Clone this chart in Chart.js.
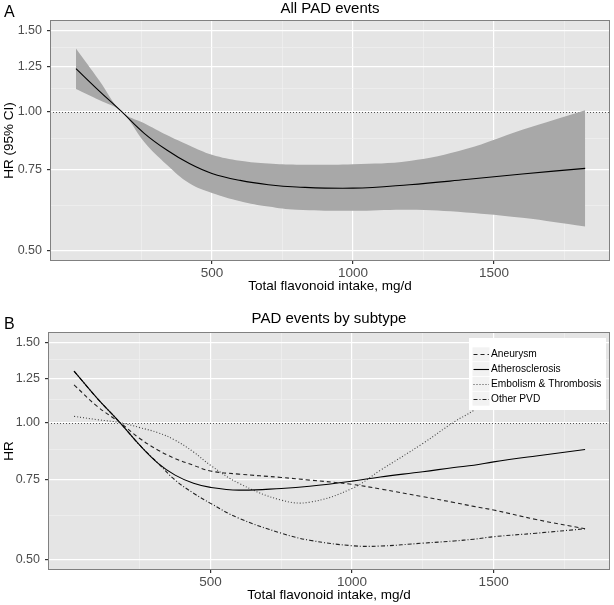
<!DOCTYPE html>
<html>
<head>
<meta charset="utf-8">
<script src="https://cdn.jsdelivr.net/npm/chart.js@4.4.0/dist/chart.umd.min.js"></script>
<style>
  body { margin: 0; background: #fff; }
  canvas { position: absolute; left: 0; }
  #chartA { top: 0; }
  #chartB { top: 300px; }
</style>
</head>
<body>
<canvas id="chartA" width="614" height="300"></canvas>
<canvas id="chartB" width="614" height="305"></canvas>
<script>
// Panel A: all PAD events, HR with 95% CI
const intakeA = [18, 100, 180, 260, 340, 420, 500, 600, 700, 800, 1000, 1200, 1400, 1600, 1823];
const hrAll = [1.24, 1.11, 1.00, 0.898, 0.826, 0.772, 0.735, 0.71, 0.695, 0.687, 0.683, 0.695, 0.713, 0.733, 0.754];
const hrAllUpper = [1.37, 1.17, 1.00, 0.944, 0.89, 0.845, 0.807, 0.783, 0.772, 0.768, 0.77, 0.782, 0.83, 0.914, 1.008];
const hrAllLower = [1.12, 1.06, 1.00, 0.86, 0.768, 0.70, 0.667, 0.64, 0.623, 0.613, 0.61, 0.613, 0.605, 0.589, 0.564];

// Panel B: by subtype
const intakeB = [18, 100, 180, 250, 315, 375, 440, 500, 600, 750, 850, 1000, 1100, 1250, 1360, 1430, 1500, 1650, 1823];
const hrAneurysm = [1.21, 1.085, 1.0, 0.923, 0.87, 0.834, 0.806, 0.783, 0.771, 0.758, 0.748, 0.732, 0.715, 0.688, 0.668, 0.655, 0.643, 0.613, 0.585];
const hrAthero = [1.297, 1.13, 1.0, 0.892, 0.814, 0.767, 0.736, 0.721, 0.711, 0.717, 0.725, 0.744, 0.76, 0.78, 0.797, 0.806, 0.82, 0.845, 0.873];
const hrEmbolism = [1.032, 1.015, 1.0, 0.975, 0.95, 0.915, 0.862, 0.806, 0.736, 0.676, 0.669, 0.717, 0.786, 0.90, 1.003, 1.064, 1.15, null, null];
const hrOther = [1.297, 1.13, 1.0, 0.892, 0.814, 0.748, 0.70, 0.665, 0.617, 0.572, 0.552, 0.537, 0.536, 0.544, 0.55, 0.555, 0.562, 0.572, 0.585];
const subtypes = ["Aneurysm", "Atherosclerosis", "Embolism & Thrombosis", "Other PVD"];

const yTickValues = [0.5, 0.625, 0.75, 0.875, 1.0, 1.125, 1.25, 1.375, 1.5];
const yTickLabels = ["0.50", "", "0.75", "", "1.00", "", "1.25", "", "1.50"];
const xTickValues = [250, 500, 750, 1000, 1250, 1500, 1750];
const xTickLabels = ["", "500", "", "1000", "", "1500", ""];
const refHR = 1.0;

const FONT = "'Liberation Sans', Arial, Helvetica, sans-serif";

const pts = (xs, ys) => xs.map((x, i) => ({ x: x, y: ys[i] }));

const panelDecor = {
  id: "panelDecor",
  beforeDraw(chart) {
    const a = chart.chartArea, ctx = chart.ctx;
    ctx.save();
    ctx.fillStyle = "#e5e5e5";
    ctx.fillRect(a.left, a.top, a.right - a.left, a.bottom - a.top);
    ctx.restore();
  },
  beforeDatasetsDraw(chart) {
    const a = chart.chartArea, ctx = chart.ctx;
    const y = Math.round(chart.scales.y.getPixelForValue(refHR)) + 0.5;
    ctx.save();
    ctx.strokeStyle = "#555";
    ctx.lineWidth = 1;
    ctx.setLineDash([1, 2]);
    ctx.beginPath();
    ctx.moveTo(a.left, y);
    ctx.lineTo(a.right, y);
    ctx.stroke();
    ctx.restore();
  },
  afterDatasetsDraw(chart, args, opts) {
    if (!opts.showKey) return;
    const a = chart.chartArea, ctx = chart.ctx;
    const w = 137, h = 72;
    const x0 = a.right - 4 - w, y0 = a.top + 6;
    ctx.save();
    ctx.fillStyle = "#fff";
    ctx.fillRect(x0, y0, w, h);
    ctx.font = "10.2px " + FONT;
    ctx.textBaseline = "middle";
    chart.data.datasets.forEach((ds, i) => {
      const cy = y0 + 16.3 + i * 14.8;
      ctx.fillStyle = "#f2f2f2";
      ctx.fillRect(x0 + 3.5, cy - 7, 17, 14);
      ctx.strokeStyle = ds.borderColor;
      ctx.lineWidth = ds.borderWidth;
      ctx.setLineDash(ds.borderDash || []);
      ctx.beginPath();
      ctx.moveTo(x0 + 4.5, Math.round(cy) + 0.5);
      ctx.lineTo(x0 + 20, Math.round(cy) + 0.5);
      ctx.stroke();
      ctx.setLineDash([]);
      ctx.fillStyle = "#000";
      ctx.fillText(ds.label, x0 + 22, cy);
    });
    ctx.restore();
  },
  afterDraw(chart, args, opts) {
    const a = chart.chartArea, ctx = chart.ctx;
    ctx.save();
    ctx.strokeStyle = "#808080";
    ctx.lineWidth = 1;
    ctx.strokeRect(Math.round(a.left) + 0.5, Math.round(a.top) + 0.5,
      Math.round(a.right - a.left) - 1, Math.round(a.bottom - a.top) - 1);
    ctx.fillStyle = "#000";
    ctx.textBaseline = "middle";
    ctx.textAlign = "center";
    ctx.font = "15px " + FONT;
    ctx.fillText(opts.title, (a.left + a.right) / 2, opts.titleY);
    ctx.textAlign = "left";
    ctx.font = "16px " + FONT;
    ctx.fillText(opts.letter, 4, opts.letterY);
    ctx.restore();
  }
};

function axes(yTitle, yWidth, xHeight, xTitlePad) {
  const minor = (labels, i) => labels[i] === "";
  return {
    x: {
      type: "linear",
      min: -74,
      max: 1911,
      afterBuildTicks: s => { s.ticks = xTickValues.map(v => ({ value: v })); },
      afterFit: s => { s.height = xHeight; },
      ticks: {
        callback: (v, i) => xTickLabels[i],
        autoSkip: false,
        maxRotation: 0,
        padding: 1,
        color: "#4d4d4d",
        font: { family: FONT, size: 13.5 }
      },
      grid: {
        color: c => minor(xTickLabels, c.index) ? "#f2f2f2" : "#ffffff",
        lineWidth: c => minor(xTickLabels, c.index) ? 0.6 : 1.2,
        tickColor: c => minor(xTickLabels, c.index) ? "rgba(0,0,0,0)" : "#333",
        tickLength: 3
      },
      border: { display: false },
      title: {
        display: true,
        text: "Total flavonoid intake, mg/d",
        color: "#000",
        font: { family: FONT, size: 13.5 },
        padding: { top: 0, bottom: xTitlePad }
      }
    },
    y: {
      type: "logarithmic",
      min: 0.475,
      max: 1.58,
      afterBuildTicks: s => { s.ticks = yTickValues.map(v => ({ value: v })); },
      afterFit: s => { s.width = yWidth; },
      ticks: {
        callback: (v, i) => yTickLabels[i],
        autoSkip: false,
        padding: 5,
        color: "#4d4d4d",
        font: { family: FONT, size: 12.5 }
      },
      grid: {
        color: c => minor(yTickLabels, c.index) ? "#f2f2f2" : "#ffffff",
        lineWidth: c => minor(yTickLabels, c.index) ? 0.6 : 1.2,
        tickColor: c => minor(yTickLabels, c.index) ? "rgba(0,0,0,0)" : "#333",
        tickLength: 3
      },
      border: { display: false },
      title: {
        display: true,
        text: yTitle,
        color: "#000",
        font: { family: FONT, size: 13.5 },
        padding: { top: 1, bottom: 0 }
      }
    }
  };
}

const lineBase = {
  pointRadius: 0,
  borderColor: "#000",
  borderWidth: 1.1,
  tension: 0.4,
  fill: false
};

new Chart(document.getElementById("chartA"), {
  type: "line",
  data: {
    datasets: [
      Object.assign({}, lineBase, { label: "HR", data: pts(intakeA, hrAll) }),
      Object.assign({}, lineBase, {
        label: "Upper 95% CI", data: pts(intakeA, hrAllUpper),
        borderWidth: 0, fill: "+1", backgroundColor: "#a8a8a8"
      }),
      Object.assign({}, lineBase, {
        label: "Lower 95% CI", data: pts(intakeA, hrAllLower), borderWidth: 0
      })
    ]
  },
  options: {
    responsive: false,
    animation: false,
    layout: { padding: { top: 20, right: 4, left: 0, bottom: 0 } },
    scales: axes("HR (95% CI)", 50, 39, 6),
    plugins: {
      legend: { display: false },
      tooltip: { enabled: false },
      panelDecor: { title: "All PAD events", letter: "A", titleY: 9, letterY: 13, showKey: false }
    }
  },
  plugins: [panelDecor]
});

new Chart(document.getElementById("chartB"), {
  type: "line",
  data: {
    datasets: [
      Object.assign({}, lineBase, { label: subtypes[0], data: pts(intakeB, hrAneurysm), borderDash: [4, 3], borderColor: "#222" }),
      Object.assign({}, lineBase, { label: subtypes[1], data: pts(intakeB, hrAthero) }),
      Object.assign({}, lineBase, { label: subtypes[2], data: pts(intakeB, hrEmbolism), borderDash: [1, 2], borderColor: "#444" }),
      Object.assign({}, lineBase, { label: subtypes[3], data: pts(intakeB, hrOther), borderDash: [4, 2, 1, 2], borderColor: "#222" })
    ]
  },
  options: {
    responsive: false,
    animation: false,
    layout: { padding: { top: 32, right: 4, left: 0, bottom: 0 } },
    scales: axes("HR", 48, 35, 2),
    plugins: {
      legend: { display: false },
      tooltip: { enabled: false },
      panelDecor: { title: "PAD events by subtype", letter: "B", titleY: 19, letterY: 25, showKey: true }
    }
  },
  plugins: [panelDecor]
});
</script>
</body>
</html>
